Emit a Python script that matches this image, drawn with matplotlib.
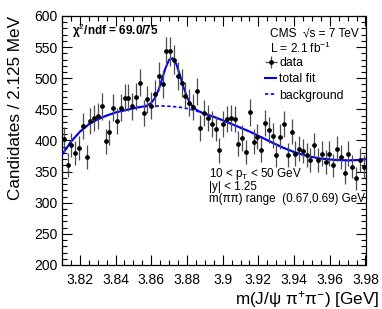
import numpy as np
import matplotlib.pyplot as plt

plt.rcParams['font.family'] = ['Liberation Sans', 'DejaVu Sans']
plt.rcParams['mathtext.fontset'] = 'custom'
plt.rcParams['mathtext.rm'] = 'Liberation Sans'
plt.rcParams['mathtext.it'] = 'Liberation Sans:italic'
plt.rcParams['mathtext.bf'] = 'Liberation Sans:bold'

# binning: 80 bins of 2.125 MeV between 3.81 and 3.98 GeV
x_lo, x_hi, n_bins = 3.81, 3.98, 80

# candidates per bin
counts = [402, 361, 393, 380, 388, 423, 374, 432, 436, 439,
          455, 399, 413, 453, 432, 453, 469, 469, 455, 470,
          493, 444, 466, 456, 475, 503, 491, 543, 543, 530,
          504, 492, 472, 461, 454, 479, 420, 444, 436, 426,
          419, 384, 427, 434, 436, 434, 395, 404, 382, 445,
          398, 406, 385, 428, 417, 408, 377, 406, 426, 377,
          414, 379, 387, 383, 377, 369, 393, 369, 379, 366,
          379, 360, 387, 374, 348, 379, 358, 339, 369, 358]

# background curve, read every 5 MeV
bkg_x = [3.810, 3.815, 3.820, 3.825, 3.830, 3.835, 3.840, 3.845, 3.850, 3.855,
         3.860, 3.865, 3.870, 3.875, 3.880, 3.885, 3.890, 3.895, 3.900, 3.905,
         3.910, 3.915, 3.920, 3.925, 3.930, 3.935, 3.940, 3.945, 3.950, 3.955,
         3.960, 3.965, 3.970, 3.975, 3.980]
bkg_y = [377, 398, 414, 426, 434, 440, 445, 448.5, 451.5, 454,
         455, 455.5, 455, 453.9, 451.5, 447.7, 443, 438, 432.5, 426.5,
         420.5, 414.5, 407.5, 400.5, 393.5, 387, 381.5, 377, 373.5, 371,
         369.5, 368.5, 368, 368.5, 370]

# total fit curve, denser around the X(3872) peak
fit_x = [3.810, 3.815, 3.820, 3.825, 3.830, 3.835, 3.840, 3.845, 3.850, 3.852,
         3.856, 3.858, 3.860, 3.862, 3.864, 3.866, 3.868, 3.870, 3.872, 3.874,
         3.876, 3.878, 3.880, 3.882, 3.884, 3.886, 3.888, 3.890, 3.895, 3.900,
         3.905, 3.910, 3.915, 3.920, 3.925, 3.930, 3.935, 3.940, 3.945, 3.950,
         3.955, 3.960, 3.965, 3.970, 3.975, 3.980]
fit_y = [377, 398, 414, 426, 434, 440, 445, 448.5, 451.5, 453,
         454.8, 456.6, 460.5, 468.0, 480.7, 498.1, 516.4, 529.6, 532.2, 523.0,
         505.6, 486.3, 469.9, 458.8, 452.0, 448.0, 445.2, 443, 438, 432.5,
         426.5, 420.5, 414.5, 407.5, 400.5, 393.5, 387, 381.5, 377, 373.5,
         371, 369.5, 368.5, 368, 368.5, 370]

edges = np.linspace(x_lo, x_hi, n_bins + 1)
centers = 0.5 * (edges[:-1] + edges[1:])
counts = np.array(counts, dtype=float)
half_w = 0.5 * (edges[1] - edges[0])

fig = plt.figure(figsize=(3.82, 3.09), dpi=100)
ax = fig.add_axes([62 / 382, 1 - 265 / 309, 303.5 / 382, 249 / 309])

ax.plot(bkg_x, bkg_y, color='#0000ff', lw=1.2, ls=(0, (2, 1.5)), zorder=2,
        label='background')
ax.plot(fit_x, fit_y, color='#0000ff', lw=1.5, zorder=3, label='total fit')
eb = ax.errorbar(centers, counts, yerr=np.sqrt(counts), xerr=half_w, fmt='o',
                 color='black', ms=2.4, ecolor='0.3', elinewidth=0.9,
                 capsize=0, zorder=4, label='data')

ax.set_xlim(x_lo, x_hi)
ax.set_ylim(200, 600)
ax.set_xticks(np.arange(3.82, 3.981, 0.02))
ax.set_xticks(np.arange(3.81, 3.981, 0.005), minor=True)
ax.set_xticklabels(['3.82', '3.84', '3.86', '3.88', '3.9', '3.92', '3.94', '3.96', '3.98'])
ax.set_yticks(np.arange(200, 601, 50))
ax.set_yticks(np.arange(200, 601, 10), minor=True)
ax.tick_params(which='both', direction='in', top=True, right=True, labelsize=10,
               width=0.8)
ax.tick_params(which='major', length=7)
ax.tick_params(which='minor', length=3.5)
ax.tick_params(axis='x', pad=6)
ax.tick_params(axis='y', pad=3)
for s in ax.spines.values():
    s.set_linewidth(0.9)

ax.set_ylabel('Candidates / 2.125 MeV', fontsize=12.3, loc='top')
ax.yaxis.set_label_coords(-0.13, 1.0)
ax.set_xlabel(r'm(J/ψ π$^{+}$π$^{-}$) [GeV]', fontsize=12.3, loc='right')
ax.xaxis.set_label_coords(1.045, -0.095)

ax.text(0.033, 0.94, r'χ$^{2}$/ndf = 69.0/75', transform=ax.transAxes,
        fontsize=8.5, fontweight='bold', va='center', ha='left')
ax.text(0.685, 0.928, 'CMS  √s = 7 TeV', transform=ax.transAxes,
        fontsize=8.6, va='center', ha='left')
ax.text(0.685, 0.871, r'L = 2.1 fb$^{-1}$', transform=ax.transAxes,
        fontsize=8.6, va='center', ha='left')
ax.text(0.484, 0.365, r'10 < p$_{\mathrm{T}}$ < 50 GeV', transform=ax.transAxes,
        fontsize=8.4, va='center', ha='left')
ax.text(0.484, 0.313, '|y| < 1.25', transform=ax.transAxes,
        fontsize=8.4, va='center', ha='left')
ax.text(0.484, 0.265, 'm(ππ) range  (0.67,0.69) GeV', transform=ax.transAxes,
        fontsize=8.4, va='center', ha='left')

handles, labels = ax.get_legend_handles_labels()
order = [labels.index('data'), labels.index('total fit'), labels.index('background')]
ax.legend([handles[i] for i in order], [labels[i] for i in order],
          loc='upper left', bbox_to_anchor=(0.67, 0.835), frameon=False,
          fontsize=8.8, handlelength=0.9, handletextpad=0.25, labelspacing=0.35,
          borderpad=0, borderaxespad=0)

fig.savefig('out.png', dpi=100)
